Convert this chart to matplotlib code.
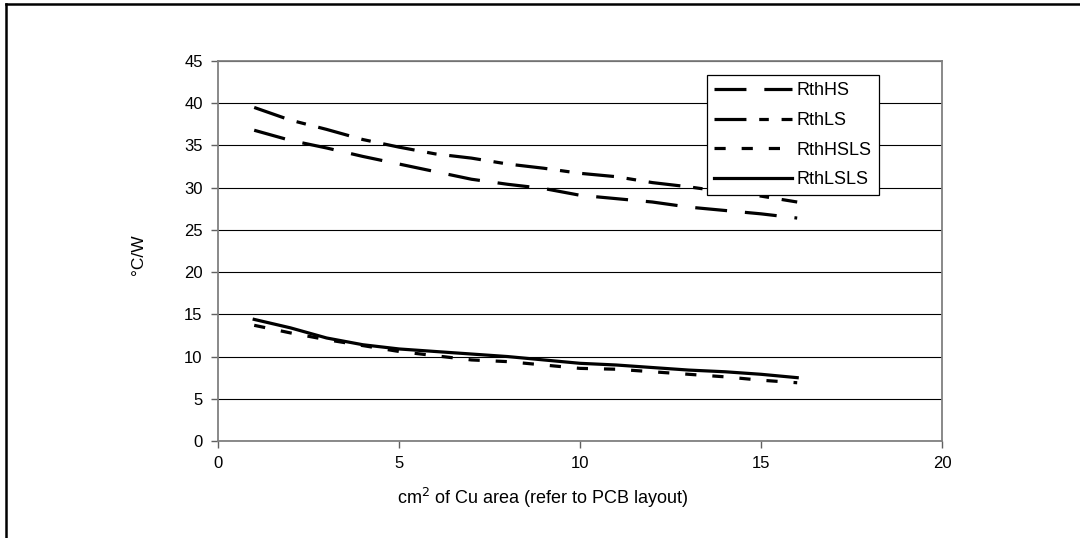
import numpy as np
import matplotlib.pyplot as plt
from matplotlib.lines import Line2D

plt.rcParams['font.family'] = ['Liberation Sans', 'DejaVu Sans']
plt.rcParams['font.size'] = 12

# Cu area (cm^2)
area = [1, 2, 3, 4, 5, 6, 7, 8, 9, 10, 11, 12, 13, 14, 15, 16]

# thermal resistance, degC/W
rth_hs = [36.8, 35.6, 34.7, 33.7, 32.8, 31.9, 31.0, 30.4, 29.9, 29.1, 28.7, 28.3, 27.7, 27.3, 26.9, 26.4]
rth_ls = [39.5, 38.0, 36.9, 35.7, 34.8, 34.0, 33.5, 32.8, 32.3, 31.7, 31.3, 30.6, 30.1, 29.5, 29.0, 28.3]
rth_hsls = [13.7, 12.8, 12.0, 11.3, 10.6, 10.1, 9.6, 9.4, 9.0, 8.6, 8.5, 8.2, 7.9, 7.6, 7.2, 6.9]
rth_lsls = [14.4, 13.4, 12.2, 11.4, 10.9, 10.6, 10.3, 10.0, 9.6, 9.2, 9.0, 8.7, 8.4, 8.2, 7.9, 7.5]

fig = plt.figure(figsize=(10.8, 5.38), dpi=100)
ax = fig.add_axes([218 / 1080, 1 - 441 / 538, 724 / 1080, 380 / 538])

lw = 2.3
ax.plot(area, rth_hs, color='black', lw=lw, ls=(0, (10, 5.6)), label='RthHS')
ax.plot(area, rth_ls, color='black', lw=lw, ls=(0, (10, 4, 3, 4)), label='RthLS')
ax.plot(area, rth_hsls, color='black', lw=lw, ls=(0, (3.5, 5)), label='RthHSLS')
ax.plot(area, rth_lsls, color='black', lw=lw, ls='-', label='RthLSLS')

ax.set_xlim(0, 20)
ax.set_ylim(0, 45)
ax.set_xticks([0, 5, 10, 15, 20])
ax.set_yticks(range(0, 46, 5))
ax.yaxis.grid(True, color='black', lw=0.8)
ax.set_axisbelow(True)
ax.tick_params(direction='out', length=5, width=1, color='#606060', pad=6, labelsize=12)
for s in ax.spines.values():
    s.set_color('#808080')
    s.set_linewidth(1.3)

ax.set_xlabel('cm$^2$ of Cu area (refer to PCB layout)', fontsize=13)
ax.xaxis.set_label_coords((543 - 218) / 724, -0.118)
ax.set_ylabel('°C/W', fontsize=12.5)
ax.yaxis.set_label_coords(-0.1, 0.49)

leg = ax.legend(loc='upper left', bbox_to_anchor=(0.675, 0.963), fontsize=13,
                handlelength=4.3, handletextpad=0.3, labelspacing=0.7,
                borderpad=0.4, borderaxespad=0, fancybox=False, framealpha=1)
leg.get_frame().set_edgecolor('black')
leg.get_frame().set_linewidth(0.9)

# outer frame of the figure box
fig.add_artist(Line2D([6 / 1080, 1], [1 - 4 / 538, 1 - 4 / 538], color='black', lw=1.8,
                      transform=fig.transFigure))
fig.add_artist(Line2D([6 / 1080, 6 / 1080], [0, 1 - 4 / 538], color='black', lw=1.8,
                      transform=fig.transFigure))

fig.savefig('out.png', dpi=100)
